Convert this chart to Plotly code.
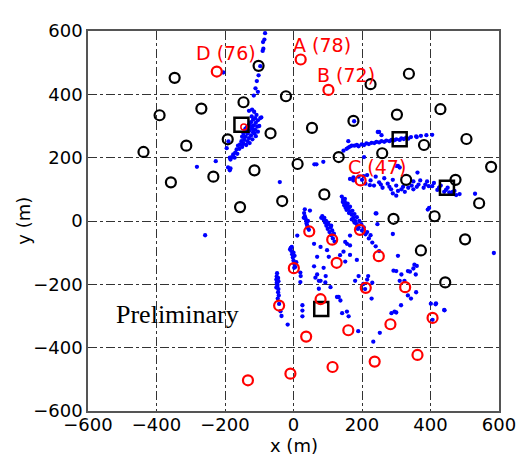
import plotly.graph_objects as go

# ---- data (metres) ----
black_x = [-347, -391, -269, -438, -313, -358, -234, -146, -192, -114, -156, -102,
           337, 225, -22, 302, 429, 175, 54, -67, 505, 381, 259, 132, 12, 577,
           329, 473, -33, 90, 542, 292, 412, 372, 501, 443]
black_y = [452, 334, 355, 218, 238, 122, 140, 375, 258, 160, 44, 490,
           465, 432, 394, 336, 353, 316, 294, 277, 259, 240, 214, 202, 180, 171,
           130, 130, 63, 84, 56, 7, 15, -93, -58, -194]

square_x = [-152, 310, 448, 81]
square_y = [304, 258, 105, -278]

red_x = [21, 102, 196, -224, 46, 194, 113, 249, 126, 1, 211, 326, -42, 79, 406,
         283, 160, 37, 362, 237, 114, -9, -133]
red_y = [510, 414, 128, 472, -33, -28, -59, -111, -132, -149, -211, -209, -267,
         -247, -306, -326, -345, -365, -423, -444, -461, -482, -503]

small_red_x = [-145]
small_red_y = [297]

label_text = ["A (78)", "B (72)", "C (47)", "D (76)"]
label_x = [84, 153, 244, -197]
label_y = [557, 460, 171, 531]

dots_nw = [(-83, 593), (-85, 573), (-89, 565), (-88, 544), (-90, 537), (-97, 489),
           (-102, 460), (-107, 442), (-111, 419), (-104, 408), (-116, 396), (-121, 352),
           (-115, 345), (-97, 325), (-94, 327), (-130, 348), (-205, 469),
           (-195, 230), (-186, 200), (-191, 169), (-184, 166), (-190, 251), (-282, 171),
           (-227, 189), (-186, 160), (-40, 123), (-258, -45)]

dots_cluster = [(-108, 335), (-112, 325), (-104, 318), (-118, 320), (-110, 310), (-124, 312),
                (-116, 302), (-106, 298), (-130, 304), (-122, 294), (-112, 288), (-136, 296),
                (-128, 286), (-118, 280), (-142, 286), (-134, 276), (-124, 270), (-146, 276),
                (-140, 266), (-130, 262), (-150, 266), (-144, 256), (-134, 252), (-120, 258),
                (-110, 268), (-152, 252), (-146, 244), (-138, 240), (-128, 246), (-156, 242),
                (-150, 234), (-162, 238), (-158, 228), (-166, 226), (-170, 216), (-176, 210),
                (-180, 202), (-184, 194), (-172, 200), (-164, 212), (-118, 290), (-126, 300),
                (-114, 276), (-132, 282), (-140, 292), (-104, 282), (-100, 300), (-122, 330)]

dots_arc_upper = [(146, 222), (160, 232), (170, 238), (185, 240), (199, 242), (213, 245),
                  (228, 247), (242, 250), (257, 252), (271, 254), (286, 256), (300, 258),
                  (315, 261), (329, 263), (343, 265), (358, 267), (372, 269), (388, 271),
                  (190, 236), (220, 243), (250, 248), (280, 252), (310, 256), (335, 260),
                  (360, 265), (155, 228), (165, 235), (178, 238), (206, 240), (236, 246),
                  (265, 250), (294, 255), (322, 259), (160, 252), (250, 281), (257, 271),
                  (177, 315), (246, 281), (405, 272), (87, 187), (67, 179), (61, 179),
                  (206, 202), (310, 169), (305, 174), (362, 153), (300, 174), (396, 41),
                  (392, 36), (530, 86), (240, 24), (245, -10)]

dots_arc_lower = [(165, 133), (175, 138), (190, 140), (205, 142), (215, 145), (240, 140),
                  (265, 135), (290, 130), (350, 125), (370, 128), (390, 125), (410, 120),
                  (430, 112), (450, 105), (470, 95), (175, 128), (200, 130), (225, 128),
                  (250, 122), (275, 118), (300, 112), (320, 108), (345, 112), (365, 115),
                  (385, 115), (405, 110), (425, 105), (445, 98), (465, 92), (485, 85),
                  (210, 118), (235, 112), (260, 105), (285, 100), (305, 95), (325, 92),
                  (350, 100), (380, 105), (420, 98), (455, 90), (475, 82), (290, 87),
                  (300, 80), (223, 113), (255, 115), (280, 108), (315, 100), (335, 105),
                  (360, 108), (395, 110), (440, 92), (460, 86)]

dots_south = [(31, 25), (33, 15), (35, 8), (37, 0), (38, -8), (40, -15), (42, -22), (30, 10),
              (45, -28), (33, 37), (42, 0), (48, 33), (81, 10), (100, -5), (110, -15),
              (84, 15), (88, 5), (92, -5), (96, -15), (100, -25), (105, -35), (110, -45),
              (115, -55), (120, -65), (90, 10), (95, 0), (102, -10), (108, -20), (113, -30),
              (118, -40), (141, 77), (145, 68), (150, 60), (155, 50), (160, 40), (165, 30),
              (170, 20), (175, 10), (180, 0), (185, -10), (190, -20), (200, -30), (210, -42),
              (220, -55), (230, -68), (240, -80), (250, -95), (150, 70), (158, 55), (165, 45),
              (172, 32), (178, 22), (185, 12), (192, 0), (198, -10), (205, -20), (215, -35),
              (225, -45), (148, 50), (155, 35), (162, 25), (170, 5), (178, -5), (188, -25),
              (144, 60), (152, 42),
              (-8, -85), (-6, -95), (-4, -105), (-2, -115), (0, -125), (2, -135), (5, -145),
              (-10, -90), (0, -100), (8, -130), (-5, -82), (3, -110),
              (-48, -165), (-49, -175), (-50, -185), (-49, -195), (-47, -205), (-44, -215),
              (-45, -225), (-43, -235), (-46, -245), (-42, -262), (-38, -285), (-35, -300),
              (-45, -180), (-47, -200), (-17, -327), (-50, -210), (-44, -190),
              (20, -163), (20, -193), (2, -148), (26, -266), (26, -283), (26, -301),
              (60, -143), (88, -148), (64, -179), (74, -189), (93, -194), (74, -214),
              (108, -209), (132, -240), (137, -251), (142, -291), (156, -286), (180, -189),
              (190, -174), (218, -174), (204, -199), (209, -215), (228, -245), (127, -240),
              (161, -301), (189, -348), (252, -353), (233, -381), (286, -291), (295, -286),
              (300, -289), (314, -266), (310, -189), (324, -189), (334, -235), (343, -245),
              (358, -225), (401, -261), (415, -263), (440, -281), (406, -312), (242, 24),
              (290, -41), (305, -110), (353, -138), (334, -158), (357, -169), (300, -158),
              (315, -169), (185, -123), (165, -46), (156, -72), (146, -97), (151, -128),
              (165, -107), (11, -46), (60, -72), (79, -82), (98, -92), (69, -113),
              (103, -113), (136, -108), (165, -77), (151, -66), (21, -174), (69, -169),
              (79, -189), (94, -174), (585, -101), (441, -282), (416, -260), (292, -157),
              (350, -150), (360, -142), (340, -160), (230, -195), (215, -185)]

ticks = [-600, -400, -200, 0, 200, 400, 600]

# ---- figure ----
all_dots = dots_nw + dots_cluster + dots_arc_upper + dots_arc_lower + dots_south
fig = go.Figure()
fig.add_trace(go.Scatter(x=[p[0] for p in all_dots], y=[p[1] for p in all_dots],
                         mode="markers", marker=dict(color="#0000ff", size=4.3, line=dict(width=0)),
                         hoverinfo="skip"))
fig.add_trace(go.Scatter(x=black_x, y=black_y, mode="markers",
                         marker=dict(symbol="circle-open", size=10, color="black",
                                     line=dict(width=2.2, color="black"))))
fig.add_trace(go.Scatter(x=square_x, y=square_y, mode="markers",
                         marker=dict(symbol="square-open", size=14, color="black",
                                     line=dict(width=2.5, color="black"))))
fig.add_trace(go.Scatter(x=red_x, y=red_y, mode="markers",
                         marker=dict(symbol="circle-open", size=10, color="#ff0000",
                                     line=dict(width=2.2, color="#ff0000"))))
fig.add_trace(go.Scatter(x=small_red_x, y=small_red_y, mode="markers",
                         marker=dict(symbol="circle-open", size=6, color="#ff0000",
                                     line=dict(width=1.5, color="#ff0000"))))

for t, x, y in zip(label_text, label_x, label_y):
    fig.add_annotation(x=x, y=y, text=t, showarrow=False, xanchor="center", yanchor="middle",
                       font=dict(family="DejaVu Sans", size=19, color="#ff0000"))
fig.add_annotation(x=-340, y=-294, text="Preliminary", showarrow=False,
                   font=dict(family="Liberation Serif", size=26, color="black"))

# axis titles placed in paper coordinates
fig.add_annotation(x=0.5, y=-0.09, xref="paper", yref="paper", text="x (m)",
                   showarrow=False, xanchor="center", yanchor="middle",
                   font=dict(family="DejaVu Sans", size=18, color="black"))
fig.add_annotation(x=-0.159, y=0.5, xref="paper", yref="paper", text="y (m)",
                   showarrow=False, xanchor="center", yanchor="middle", textangle=-90,
                   font=dict(family="DejaVu Sans", size=18, color="black"))

axis_common = dict(range=[-600, 600], tickvals=ticks, showgrid=True, gridcolor="#333",
                   griddash="dashdot", gridwidth=0.8, zeroline=False, showline=True,
                   linecolor="#555", linewidth=1.5, mirror=True, ticks="",
                   tickfont=dict(family="DejaVu Sans", size=18, color="black"))
fig.update_xaxes(**axis_common, ticklabelstandoff=-3)
fig.update_yaxes(**axis_common)
# page body adds an 8px offset, so the figure is sized to fit the 528x456 window
fig.update_layout(width=520, height=448, margin=dict(l=80, r=24, t=12, b=45),
                  paper_bgcolor="white", plot_bgcolor="white", showlegend=False,
                  font=dict(family="DejaVu Sans"))
fig.write_html("out.html")
